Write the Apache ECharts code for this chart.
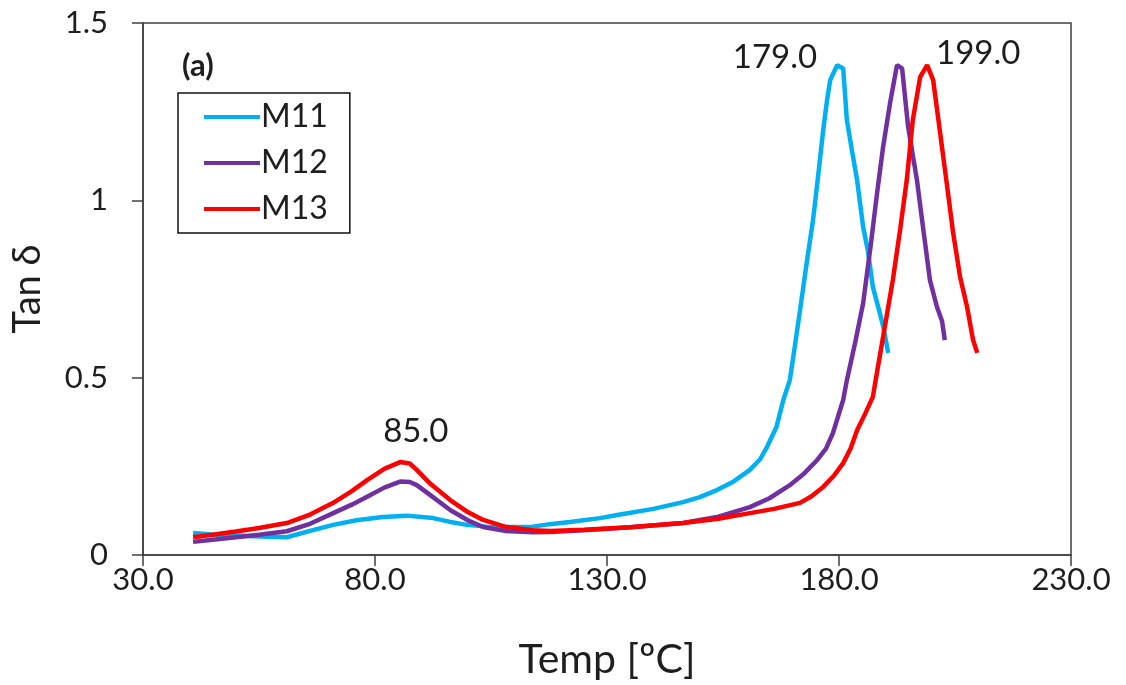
<!DOCTYPE html>
<html>
<head>
<meta charset="utf-8">
<script src="https://cdn.jsdelivr.net/npm/echarts@6/dist/echarts.min.js"></script>
<style>html,body{margin:0;padding:0;background:#fff}#c{width:1126px;height:685px}</style>
</head>
<body>
<div id="c"></div>
<script>
const xTicks = [30, 80, 130, 180, 230];
const yTicks = [0, 0.5, 1, 1.5];
const seriesNames = ['M11', 'M12', 'M13'];
const colors = ['#00B0F0', '#7030A0', '#FF0000'];

const m11 = [[40.8,0.062],[45,0.058],[50,0.055],[55,0.052],[61,0.05],[66,0.068],[71,0.085],[76,0.098],[81.7,0.107],[86.9,0.111],[92.5,0.104],[96,0.094],[99.8,0.085],[104,0.08],[107,0.079],[114,0.08],[117.7,0.087],[122,0.093],[128.5,0.104],[132.2,0.113],[140,0.13],[146.4,0.149],[150,0.163],[153.7,0.183],[157,0.205],[160.8,0.24],[163,0.27],[164.5,0.305],[166.5,0.36],[168,0.437],[169.4,0.493],[170.5,0.59],[171.6,0.69],[173,0.82],[174.4,0.944],[175.6,1.08],[176.6,1.198],[177.4,1.28],[178.1,1.339],[179.6,1.381],[180.9,1.372],[181.7,1.226],[182.8,1.14],[183.9,1.057],[185.2,0.925],[186.2,0.86],[187.3,0.756],[188.8,0.682],[189.6,0.64],[190.6,0.57]];
const m12 = [[40.8,0.037],[45,0.043],[50,0.05],[55,0.057],[61,0.067],[66,0.088],[71,0.118],[75,0.142],[78.3,0.164],[82,0.19],[85.4,0.207],[87.5,0.206],[89,0.197],[92,0.168],[96.2,0.127],[100,0.098],[103.3,0.079],[108,0.068],[114,0.064],[117.7,0.065],[125,0.07],[135,0.078],[146.4,0.09],[154,0.108],[160.8,0.135],[165,0.16],[169.4,0.197],[172.5,0.23],[175.3,0.268],[177.2,0.3],[178.7,0.344],[180.9,0.437],[181.7,0.493],[183.5,0.6],[185.2,0.71],[186.8,0.87],[188.2,1.02],[189.5,1.15],[191,1.274],[192.5,1.381],[193.6,1.372],[194.9,1.207],[196.8,1.057],[198.1,0.925],[199.6,0.775],[201.1,0.7],[202.2,0.66],[202.8,0.606]];
const m13 = [[40.8,0.05],[45,0.057],[50,0.066],[55,0.076],[61,0.09],[66,0.114],[71,0.147],[75,0.18],[78.3,0.211],[82,0.243],[85.4,0.262],[87.5,0.258],[89,0.24],[92,0.2],[96.2,0.155],[100,0.121],[103.3,0.099],[108,0.08],[114,0.07],[117.7,0.068],[125,0.071],[135,0.078],[146.4,0.09],[154,0.102],[160.8,0.118],[166,0.13],[171.6,0.147],[174,0.165],[176.6,0.192],[179,0.225],[180.9,0.259],[182.5,0.3],[183.9,0.352],[185.7,0.4],[187.3,0.446],[187.9,0.493],[189.7,0.63],[191.6,0.775],[193.2,0.92],[194.6,1.057],[195.9,1.226],[197.5,1.348],[199,1.381],[200.3,1.339],[201.8,1.19],[203.5,1.02],[204.6,0.908],[206.1,0.784],[207.6,0.7],[208.9,0.606],[209.8,0.57]];
const allData = [m11, m12, m13];

const annotations = [
  {text: '179.0', x: 166.2, y: 1.404},
  {text: '199.0', x: 210.0, y: 1.415},
  {text: '85.0', x: 88.8, y: 0.35}
];

const FONT = 'Lato, "Open Sans", sans-serif';
const TXT = '#1e1e1e';
const chart = echarts.init(document.getElementById('c'));

const series = seriesNames.map((n, i) => ({
  name: n,
  type: 'line',
  data: allData[i],
  symbol: 'none',
  smooth: false,
  lineStyle: {color: colors[i], width: 4.5},
  itemStyle: {color: colors[i]},
  z: 3 + i
}));

series.push({
  name: 'labels',
  type: 'scatter',
  data: annotations.map(a => ({value: [a.x, a.y], label: {formatter: a.text}})),
  symbolSize: 1,
  silent: true,
  itemStyle: {opacity: 1, color: 'rgba(0,0,0,0)'},
  label: {show: true, position: 'inside', color: TXT, opacity: 1, fontSize: 33, fontFamily: FONT},
  z: 10
});

chart.setOption({
  animation: false,
  backgroundColor: '#fff',
  grid: {left: 143, right: 55, top: 23, bottom: 130, containLabel: false, outerBoundsMode: 'none', show: true, borderColor: '#404040', borderWidth: 1.5, backgroundColor: 'transparent'},
  xAxis: {
    type: 'value', min: 30, max: 230, interval: 50,
    name: 'Temp [ºC]', nameLocation: 'middle', nameGap: 84,
    nameTextStyle: {fontSize: 41, color: TXT, fontFamily: FONT},
    axisLine: {show: true, lineStyle: {color: '#404040', width: 1.5}},
    axisTick: {show: true, length: 11, lineStyle: {color: '#404040', width: 1.5}},
    axisLabel: {fontSize: 31, color: TXT, margin: 9, fontFamily: FONT, formatter: v => v.toFixed(1)},
    splitLine: {show: false}
  },
  yAxis: {
    type: 'value', min: 0, max: 1.5, interval: 0.5,
    name: 'Tan δ', nameLocation: 'middle', nameGap: 96, nameRotate: 90,
    nameTextStyle: {fontSize: 38, color: TXT, fontFamily: FONT},
    axisLine: {show: true, lineStyle: {color: '#404040', width: 1.5}},
    axisTick: {show: true, length: 11, lineStyle: {color: '#404040', width: 1.5}},
    axisLabel: {fontSize: 31, color: TXT, margin: 35, fontFamily: FONT, formatter: v => String(v)},
    splitLine: {show: false}
  },
  legend: {
    data: seriesNames,
    orient: 'vertical', left: 178, top: 93,
    borderColor: '#111', borderWidth: 1.5,
    padding: [8, 22, 8, 26],
    itemWidth: 56, itemHeight: 4, itemGap: 14,
    icon: 'rect',
    textStyle: {fontSize: 32, color: TXT, fontFamily: FONT, padding: [0, 0, 0, -4]}
  },
  graphic: [{
    type: 'text', left: 182, top: 50,
    style: {text: '(a)', font: 'bold 31px ' + FONT, fill: TXT}
  }],
  series: series
});
</script>
</body>
</html>
